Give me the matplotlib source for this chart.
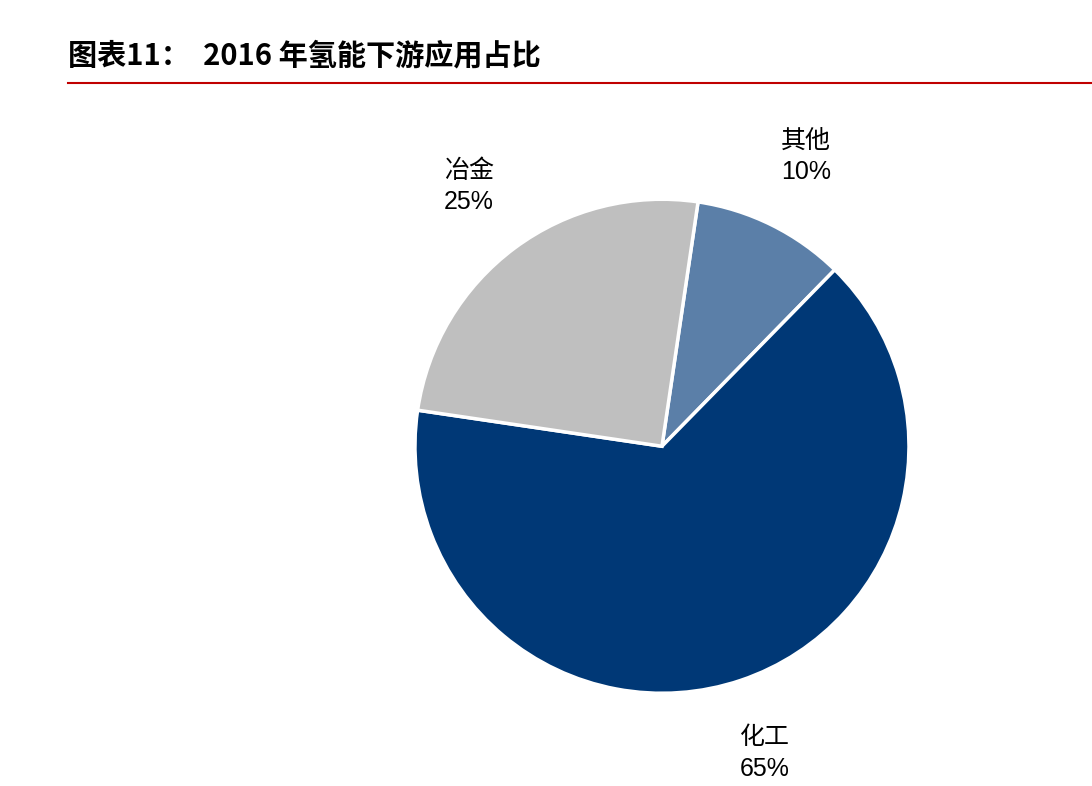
import matplotlib
matplotlib.use("Agg")
from matplotlib import pyplot as plt

plt.rcParams['font.family'] = ['Liberation Sans', 'Noto Sans CJK SC', 'DejaVu Sans']

categories = ["其他", "化工", "冶金"]
shares = [10, 65, 25]
colors = ["#5b7fa8", "#003876", "#bfbfbf"]

fig = plt.figure(figsize=(10.92, 7.86), dpi=100)
ax = fig.add_axes([0.380, 0.118, 0.4524, 0.6285])

labels = ["{}\n{}%".format(c, v) for c, v in zip(categories, shares)]
wedges, texts = ax.pie(shares, labels=labels, colors=colors, startangle=81.6,
                       counterclock=False, labeldistance=1.31,
                       wedgeprops=dict(edgecolor="white", linewidth=2.5),
                       textprops=dict(fontsize=18, linespacing=1.4))
for t in texts:
    t.set_horizontalalignment("center")
    t.set_verticalalignment("center")
    t.set_clip_on(False)
ax.set_xlim(-1, 1)
ax.set_ylim(-1, 1)
ax.set_aspect("equal")

fig.text(68 / 1092, 1 - 55 / 786, "图表11：  2016 年氢能下游应用占比",
         fontsize=21, fontweight="bold", va="center", ha="left",
         family=['Noto Sans CJK SC', 'DejaVu Sans'])
fig.add_artist(plt.Line2D([68 / 1092, 1.0], [1 - 83 / 786] * 2,
                          color="#c00000", linewidth=1.5))

fig.savefig("out.png", dpi=100)
